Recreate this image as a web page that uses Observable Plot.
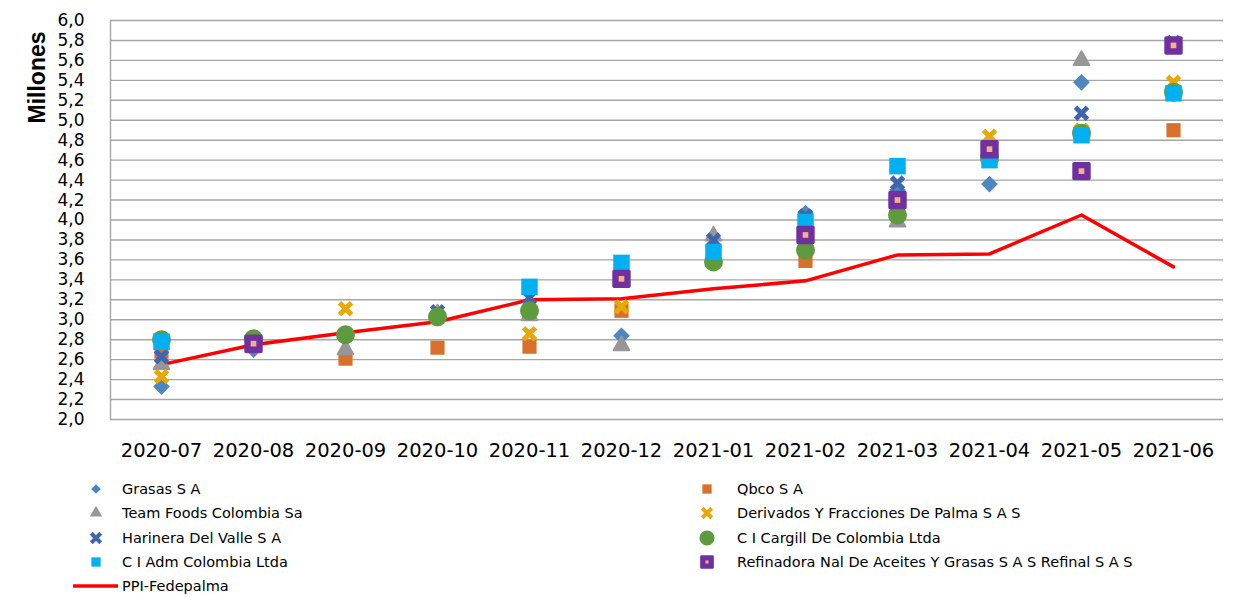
<!DOCTYPE html>
<html><head><meta charset="utf-8">
<script src="https://cdn.jsdelivr.net/npm/d3@7"></script>
<script src="https://cdn.jsdelivr.net/npm/@observablehq/plot@0.6"></script>
<style>
body{margin:0;background:#fff;font-family:"DejaVu Sans",sans-serif;}
#chart{position:relative;width:1234px;}
</style></head>
<body><div id="chart"></div>
<script>
const months = ["2020-07","2020-08","2020-09","2020-10","2020-11","2020-12","2021-01","2021-02","2021-03","2021-04","2021-05","2021-06"];
const yTicks = d3.range(20, 61, 2).map(v => v / 10);

const grasas    = [2.33, 2.70, null, null, null, 2.84, 3.72, 4.07, 4.30, 4.36, 5.38, null];
const qbco      = [2.68, 2.74, 2.61, 2.72, 2.73, 3.09, null, 3.59, null, null, null, 4.90];
const teamFoods = [2.55, 2.72, 2.70, 3.06, 3.04, 2.74, 3.84, null, 3.98, null, 5.60, null];
const derivados = [2.43, null, 3.11, null, 2.86, 3.13, null, null, null, 4.84, 4.90, 5.38];
const harinera  = [2.63, null, null, 3.08, 3.22, null, 3.80, 4.04, 4.37, null, 5.07, 5.78];
const cargill   = [2.80, 2.81, 2.85, 3.03, 3.09, null, 3.58, 3.70, 4.05, 4.62, 4.87, 5.28];
const adm       = [2.78, null, null, null, 3.33, 3.57, 3.68, 3.98, 4.54, 4.60, 4.85, 5.27];
const refinal   = [null, 2.76, null, null, null, 3.41, null, 3.85, 4.20, 4.71, 4.49, 5.75];
const ppi       = [2.55, 2.75, 2.87, 2.98, 3.20, 3.21, 3.31, 3.39, 3.65, 3.66, 4.05, 3.53];

const names = {
  grasas: "Grasas S A", qbco: "Qbco S A", teamFoods: "Team Foods Colombia Sa",
  derivados: "Derivados Y Fracciones De Palma S A S", harinera: "Harinera Del Valle S A",
  cargill: "C I Cargill De Colombia Ltda", adm: "C I Adm Colombia Ltda",
  refinal: "Refinadora Nal De Aceites Y Grasas S A S Refinal S A S", ppi: "PPI-Fedepalma"
};
const colors = {
  grasas: "#4E86C2", qbco: "#D8702B", teamFoods: "#979797", derivados: "#E6A80B",
  harinera: "#3F65AD", cargill: "#5E9B3E", adm: "#00B0F0", refinal: "#7030A0",
  refinalInner: "#F4B183", ppi: "#FF0000"
};

const rows = vals => months.map((m, i) => ({month: m, value: vals[i]})).filter(d => d.value != null);
const fmt = d => d.toFixed(1).replace(".", ",");
const grid = "#A6A6A6";

const plot = Plot.plot({
  width: 1234, height: 470,
  marginLeft: 110, marginRight: 11, marginTop: 20, marginBottom: 51,
  style: {fontFamily: "DejaVu Sans", fontSize: "19.5px", color: "#000", background: "#fff"},
  x: {domain: months, type: "point", padding: 0.5, label: null, tickSize: 0, tickPadding: 24},
  y: {domain: [2, 6], label: null},
  marks: [
    Plot.gridY(yTicks, {stroke: grid, strokeOpacity: 1, strokeWidth: 1.4}),
    Plot.axisY(yTicks, {tickFormat: fmt, label: null, tickSize: 0, tickPadding: 26, fontSize: 17, fill: "#000"}),
    Plot.frame({anchor: "left", stroke: grid, strokeWidth: 1.4}),
    Plot.line(rows(ppi), {x: "month", y: "value", stroke: colors.ppi, strokeWidth: 3.5}),
    Plot.dot(rows(grasas), {x: "month", y: "value", symbol: "diamond2", r: 7.5, fill: colors.grasas}),
    Plot.dot(rows(qbco), {x: "month", y: "value", symbol: "square2", r: 9, fill: colors.qbco}),
    Plot.dot(rows(teamFoods), {x: "month", y: "value", symbol: "triangle2", r: 7.5, fill: colors.teamFoods, stroke: colors.teamFoods, strokeWidth: 2, strokeLinejoin: "round"}),
    Plot.dot(rows(derivados), {x: "month", y: "value", symbol: "times", r: 5.5, stroke: colors.derivados, strokeWidth: 5}),
    Plot.dot(rows(harinera), {x: "month", y: "value", symbol: "times", r: 5.5, stroke: colors.harinera, strokeWidth: 5}),
    Plot.dot(rows(cargill), {x: "month", y: "value", symbol: "circle", r: 9.5, fill: colors.cargill}),
    Plot.dot(rows(adm), {x: "month", y: "value", symbol: "square2", r: 10.5, fill: colors.adm}),
    Plot.dot(rows(refinal), {x: "month", y: "value", symbol: "square2", r: 9.5, fill: colors.refinal, stroke: colors.refinal, strokeWidth: 3.5, strokeLinejoin: "round"}),
    Plot.dot(rows(refinal), {x: "month", y: "value", symbol: "square2", r: 3.6, fill: colors.refinalInner}),
    Plot.text(["Millones"], {frameAnchor: "top-left", text: d => d, rotate: -90, dx: 28 - 110, dy: 77 - 20,
      fontFamily: "Liberation Sans", fontWeight: "bold", fontSize: 23, fill: "#000", textAnchor: "middle"})
  ]
});
plot.style.display = "block";
document.getElementById("chart").appendChild(plot);

// Legend below the SVG
const legendItems = [
  {key: "grasas", col: 0, row: 0}, {key: "qbco", col: 1, row: 0},
  {key: "teamFoods", col: 0, row: 1}, {key: "derivados", col: 1, row: 1},
  {key: "harinera", col: 0, row: 2}, {key: "cargill", col: 1, row: 2},
  {key: "adm", col: 0, row: 3}, {key: "refinal", col: 1, row: 3},
  {key: "ppi", col: 0, row: 4}
];
const symbols = {
  grasas: {type: d3.symbolDiamond2, size: 60},
  qbco: {type: d3.symbolSquare2, size: 110},
  teamFoods: {type: d3.symbolTriangle2, size: 110},
  derivados: {type: d3.symbolTimes, size: 60},
  harinera: {type: d3.symbolTimes, size: 60},
  cargill: {type: d3.symbolCircle, size: 180},
  adm: {type: d3.symbolSquare2, size: 110},
  refinal: {type: d3.symbolSquare2, size: 160}
};
const colX = [96, 707], textX = [122, 737];
const rowY = [19, 43, 68, 92, 116];
const lg = d3.create("svg").attr("width", 1234).attr("height", 127).style("display", "block")
  .style("font-family", "DejaVu Sans").style("font-size", "14.5px");
for (const it of legendItems) {
  const g = lg.append("g");
  const cx = colX[it.col], cy = rowY[it.row];
  if (it.key === "ppi") {
    g.append("line").attr("x1", 73).attr("x2", 118).attr("y1", cy).attr("y2", cy)
      .attr("stroke", colors.ppi).attr("stroke-width", 3.5);
  } else {
    const s = symbols[it.key];
    const path = g.append("path").attr("transform", `translate(${cx},${cy})`)
      .attr("d", d3.symbol(s.type, s.size)());
    if (s.type === d3.symbolTimes) path.attr("fill", "none").attr("stroke", colors[it.key]).attr("stroke-width", 4);
    else path.attr("fill", colors[it.key]);
    if (it.key === "refinal") {
      path.attr("stroke", colors.refinal).attr("stroke-width", 2.5).attr("stroke-linejoin", "round");
      g.append("path").attr("transform", `translate(${cx},${cy})`)
        .attr("d", d3.symbol(d3.symbolSquare2, 12)()).attr("fill", colors.refinalInner);
    }
  }
  g.append("text").attr("x", textX[it.col]).attr("y", cy).attr("dy", "0.35em")
    .attr("fill", "#000").text(names[it.key]);
}
document.getElementById("chart").appendChild(lg.node());
</script>
</body></html>
